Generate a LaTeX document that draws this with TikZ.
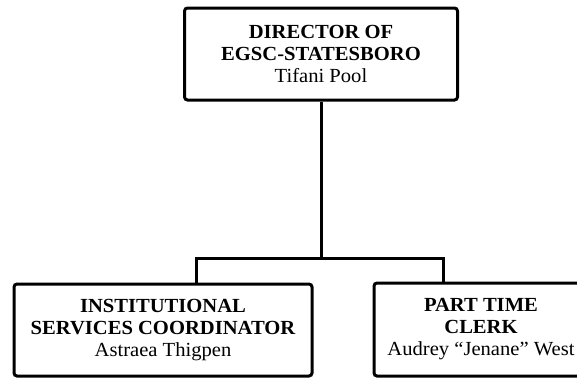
\documentclass[tikz,border=0pt]{standalone}
\usepackage{fontspec}
\setmainfont{Liberation Serif}[FakeStretch=1.03]
\begin{document}
\begin{tikzpicture}[
  x=1pt, y=-1pt,
  box/.style={draw, rectangle, rounded corners=3pt, line width=3pt,
    align=center, inner sep=0pt, font=\fontsize{20}{22}\selectfont},
  link/.style={line width=3pt}
]
\clip (0,0) rectangle (577,380);
\fill[white] (0,0) rectangle (577,380);

\node[box, minimum width=273pt, minimum height=92pt] (director) at (321,54)
  {{\bfseries DIRECTOR OF}\\{\bfseries EGSC-STATESBORO}\\Tifani Pool};
\node[box, minimum width=298pt, minimum height=92pt] (coordinator) at (163,330)
  {{\bfseries INSTITUTIONAL}\\{\bfseries SERVICES COORDINATOR}\\Astraea Thigpen};
\node[box, minimum width=214pt, minimum height=93pt] (clerk) at (481,329.5)
  {{\bfseries PART TIME}\\{\bfseries CLERK}\\Audrey “Jenane” West};

\coordinate (leftjoin) at (196,258);
\coordinate (rightjoin) at (443,258);

\draw[link] (director.south) -- (director.south |- leftjoin);
\draw[link] (coordinator.north -| leftjoin) -- (leftjoin) -- (rightjoin) -- (clerk.north -| rightjoin);

\end{tikzpicture}
\end{document}
